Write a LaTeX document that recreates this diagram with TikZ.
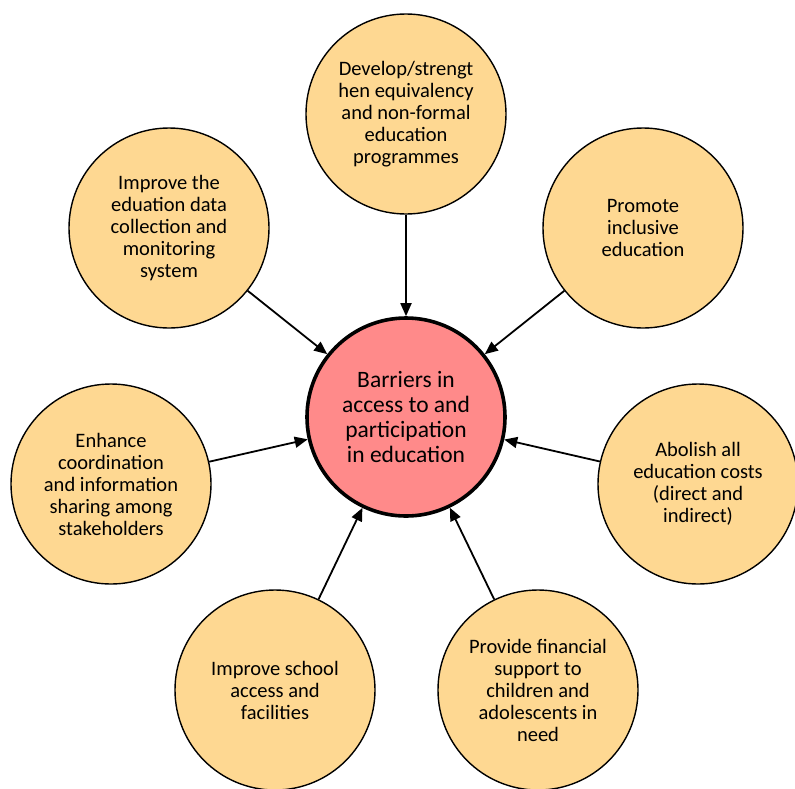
\documentclass[tikz,border=0pt]{standalone}
\usepackage{fontspec}
\setmainfont{Carlito}
\usetikzlibrary{arrows.meta}
\definecolor{petal}{RGB}{254,216,146}
\definecolor{core}{RGB}{255,138,138}

\begin{document}
\begin{tikzpicture}[x=1pt, y=-1pt,
  petal/.style = {circle, draw, line width=1.4pt, fill=petal, minimum size=200pt,
                  inner sep=0pt, align=center, font=\fontsize{20.5}{22}\selectfont},
  core/.style  = {circle, draw, line width=3.6pt, fill=core, minimum size=198pt,
                  inner sep=0pt, align=center, font=\fontsize{23.5}{25}\selectfont},
  push/.style  = {line width=1.8pt, -{Triangle[length=13pt, width=11pt]}}]
\useasboundingbox (0,0) rectangle (795,788);
\node[core] at (406,417) (bar) {Barriers in\\access to and\\participation\\in education};
\node[petal] at (406,114) (nfe) {Develop/strengt\\hen equivalency\\and non-formal\\education\\programmes};
\node[petal] at (643,228) (inc) {Promote\\inclusive\\education};
\node[petal] at (698,484) (cost) {Abolish all\\education costs\\(direct and\\indirect)};
\node[petal] at (538,690) (fin) {Provide financial\\support to\\children and\\adolescents in\\need};
\node[petal] at (275,690) (fac) {Improve school\\access and\\facilities};
\node[petal] at (111,484) (coord) {Enhance\\coordination\\and information\\sharing among\\stakeholders};
\node[petal] at (169,228) (data) {Improve the\\eduation data\\collection and\\monitoring\\system};
\draw[push] (nfe) -- (bar);
\draw[push] (inc) -- (bar);
\draw[push] (cost) -- (bar);
\draw[push] (fin) -- (bar);
\draw[push] (fac) -- (bar);
\draw[push] (coord) -- (bar);
\draw[push] (data) -- (bar);
\end{tikzpicture}
\end{document}
